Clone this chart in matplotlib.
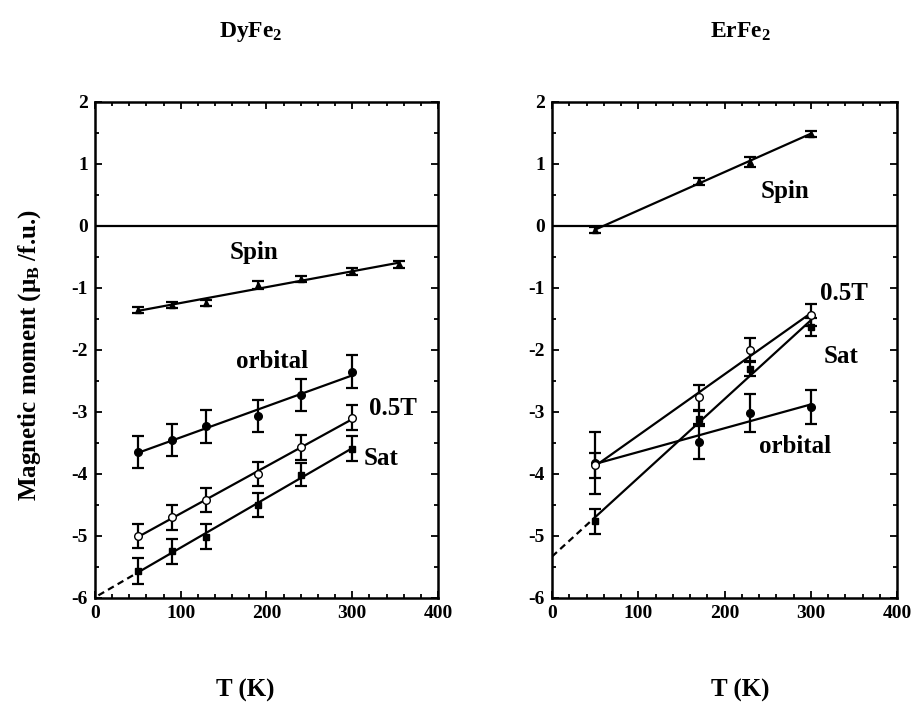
import numpy as np
import matplotlib
matplotlib.use("Agg")
import matplotlib.pyplot as plt
from matplotlib.ticker import MultipleLocator

plt.rcParams['font.family'] = ['Liberation Serif', 'DejaVu Serif']
plt.rcParams['font.weight'] = 'bold'
plt.rcParams['axes.unicode_minus'] = False
plt.rcParams['mathtext.fontset'] = 'custom'
plt.rcParams['mathtext.rm'] = 'Liberation Serif:bold'
plt.rcParams['mathtext.it'] = 'Liberation Serif:bold'
plt.rcParams['mathtext.bf'] = 'Liberation Serif:bold'

# ---- DyFe2 data ----
dy_T_spin = [50, 90, 130, 190, 240, 300, 355]
dy_spin = [-1.35, -1.28, -1.24, -0.95, -0.85, -0.73, -0.62]
dy_spin_err = [0.05, 0.05, 0.05, 0.06, 0.05, 0.06, 0.05]

dy_T = [50, 90, 130, 190, 240, 300]
dy_orb = [-3.64, -3.45, -3.23, -3.06, -2.73, -2.35]
dy_orb_err = [0.26, 0.26, 0.27, 0.26, 0.26, 0.27]
dy_05T = [-5.00, -4.70, -4.42, -4.00, -3.57, -3.09]
dy_05T_err = [0.20, 0.20, 0.20, 0.20, 0.20, 0.20]
dy_sat = [-5.56, -5.25, -5.01, -4.50, -4.01, -3.59]
dy_sat_err = [0.21, 0.20, 0.20, 0.20, 0.19, 0.20]

# ---- ErFe2 data ----
er_T = [50, 170, 230, 300]
er_spin = [-0.07, 0.72, 1.03, 1.49]
er_spin_err = [0.05, 0.06, 0.08, 0.05]
er_orb = [-3.82, -3.48, -3.02, -2.92]
er_orb_err = [0.50, 0.28, 0.31, 0.27]
er_05T = [-3.86, -2.76, -2.00, -1.44]
er_05T_err = [0.20, 0.20, 0.20, 0.18]
er_sat = [-4.76, -3.11, -2.30, -1.63]
er_sat_err = [0.20, 0.12, 0.12, 0.15]

fig = plt.figure(figsize=(9.13, 7.28), dpi=100)
axL = fig.add_axes([0.104, 0.1786, 0.3757, 0.6813])
axR = fig.add_axes([0.6046, 0.1786, 0.378, 0.6813])

def fitline(ax, T, y, dashed_from=None):
    p = np.polyfit(T, y, 1)
    xs = np.array([min(T), max(T)])
    ax.plot(xs, np.polyval(p, xs), color='k', lw=1.6, zorder=2)
    if dashed_from is not None:
        xd = np.array([dashed_from, min(T)])
        ax.plot(xd, np.polyval(p, xd), color='k', lw=1.6, ls=(0, (3, 2)), zorder=2)

def series(ax, T, y, err, marker, mfc, ms):
    ax.errorbar(T, y, yerr=err, fmt=marker, color='k', mfc=mfc, mec='k', ms=ms,
                elinewidth=1.6, capsize=4, capthick=1.6, zorder=3)

for ax in (axL, axR):
    ax.set_xlim(0, 400)
    ax.set_ylim(-6, 2)
    ax.axhline(0, color='k', lw=1.6, zorder=1)
    ax.xaxis.set_major_locator(MultipleLocator(100))
    ax.xaxis.set_minor_locator(MultipleLocator(20))
    ax.yaxis.set_major_locator(MultipleLocator(1))
    ax.yaxis.set_minor_locator(MultipleLocator(0.5))
    ax.tick_params(which='both', direction='in', top=True, right=True,
                   labelsize=14, width=1.3, pad=5)
    ax.tick_params(which='major', length=5)
    ax.tick_params(which='minor', length=3)
    for s in ax.spines.values():
        s.set_linewidth(1.8)
    for lab in ax.get_xticklabels() + ax.get_yticklabels():
        lab.set_fontweight('bold')

# Left panel
fitline(axL, dy_T_spin, dy_spin)
fitline(axL, dy_T, dy_orb)
fitline(axL, dy_T, dy_05T)
fitline(axL, dy_T, dy_sat, dashed_from=4)
series(axL, dy_T_spin, dy_spin, dy_spin_err, '^', 'k', 5)
series(axL, dy_T, dy_orb, dy_orb_err, 'o', 'k', 5.5)
series(axL, dy_T, dy_05T, dy_05T_err, 'o', 'white', 5.5)
series(axL, dy_T, dy_sat, dy_sat_err, 's', 'k', 5)

tk = dict(fontsize=18, fontweight='bold', ha='center', va='center')
axL.text(185, -0.42, 'Spin', **tk)
axL.text(206, -2.19, 'orbital', **tk)
axL.text(348, -2.95, '0.5T', **tk)
axL.text(334, -3.75, 'Sat', **tk)

# Right panel
fitline(axR, er_T, er_spin)
fitline(axR, er_T, er_orb)
fitline(axR, er_T, er_05T)
fitline(axR, er_T, er_sat, dashed_from=0)
series(axR, er_T, er_spin, er_spin_err, '^', 'k', 5)
series(axR, er_T, er_orb, er_orb_err, 'o', 'k', 5.5)
series(axR, er_T, er_05T, er_05T_err, 'o', 'white', 5.5)
series(axR, er_T, er_sat, er_sat_err, 's', 'k', 5)

axR.text(270, 0.55, 'Spin', **tk)
axR.text(338, -1.09, '0.5T', **tk)
axR.text(335, -2.11, 'Sat', **tk)
axR.text(282, -3.56, 'orbital', **tk)

fig.text(251/913, 1 - 32/728, r'DyFe$_2$', fontsize=17, fontweight='bold', ha='center', va='center')
fig.text(740/913, 1 - 32/728, r'ErFe$_2$', fontsize=17, fontweight='bold', ha='center', va='center')
fig.text(245/913, 1 - 690/728, 'T (K)', fontsize=18, fontweight='bold', ha='center', va='center')
fig.text(740/913, 1 - 690/728, 'T (K)', fontsize=18, fontweight='bold', ha='center', va='center')
fig.text(30/913, 1 - 355/728, r'Magnetic moment ($\mu_B$ /f.u.)', fontsize=18,
         fontweight='bold', ha='center', va='center', rotation=90)

fig.savefig('out.png', dpi=100)
